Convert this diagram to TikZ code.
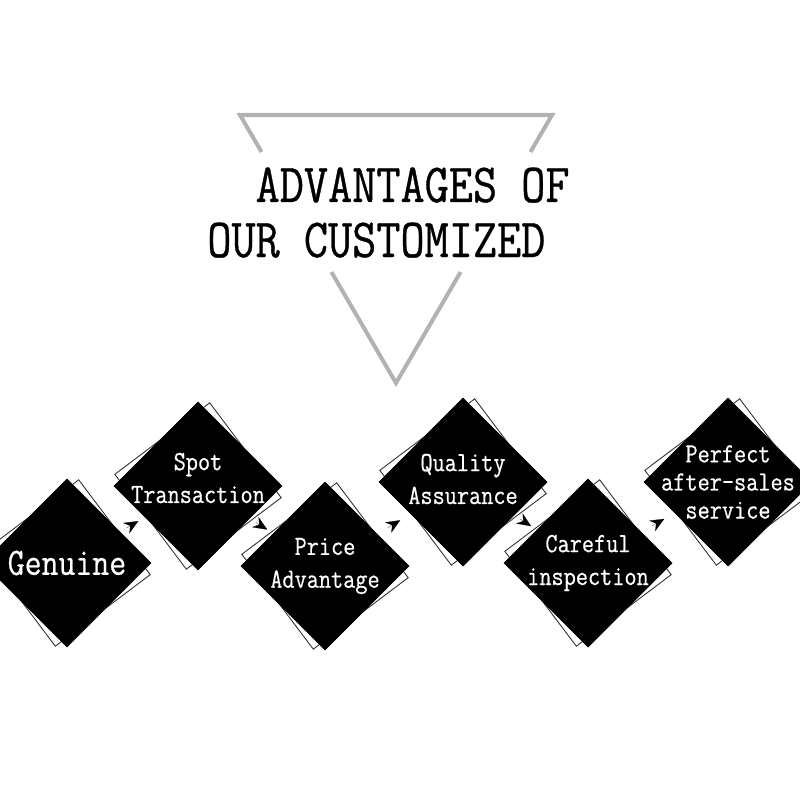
\documentclass[tikz,border=0pt]{standalone}
\usepackage{amsmath, amssymb}
\usepackage{fontspec}
\usepackage{tikz}
\usetikzlibrary{calc, arrows.meta}

\newfontfamily\narrowmono[FakeStretch=0.85, FakeBold=0.6]{Latin Modern Mono}

\begin{document}
\begin{tikzpicture}[x=0.02cm, y=-0.02cm,
		tri/.style={line width=2.3pt, draw=black!30, line join=miter},
		titletext/.style={inner sep=0pt, anchor=base west, font=\narrowmono\fontsize{31.4}{36}\selectfont},
		card/.style={fill=black, draw=black, minimum size=2.376cm, inner sep=0pt, rotate=45},
		cardback/.style={fill=white, draw=black!80, line width=0.5pt, minimum size=2.376cm, inner sep=0pt, rotate=37},
		cardtext/.style={text=white, align=center, inner sep=0pt},
		two/.style={font=\narrowmono\fontsize{15.8}{18.7}\selectfont},
		three/.style={font=\narrowmono\fontsize{15.8}{16}\selectfont},
		big/.style={font=\narrowmono\fontsize{22}{24}\selectfont},
		flowtip/.style={-{Stealth[length=0.28cm, width=0.24cm]}, line width=0.1pt}]
		
		\useasboundingbox (0,0) rectangle (800,800);
		
		% Triangulo detras del titulo
		\coordinate (tl) at (240,115);
		\coordinate (tr) at (552,115);
		\coordinate (tb) at (396,383);
		\draw[tri] ($(tl)!0.138!(tb)$) -- (tl) -- (tr) -- ($(tr)!0.138!(tb)$);
		\draw[tri] ($(tl)!0.586!(tb)$) -- (tb) -- ($(tr)!0.586!(tb)$);
		
		% Titulo
		\node[titletext] (title1) at (207,202) {\ \ ADVANTAGES OF};
		\node[titletext] (title2) at (207,257) {OUR CUSTOMIZED};
		
		% Rombos con su cuadro blanco detras
		\foreach \i/\x/\y/\dy/\sz/\txt in {1/67/563/0/big/Genuine, 2/198/486/-8/two/{Spot\\Transaction},
			3/325/566/0/two/{Price\\Advantage}, 4/463/482/-3/two/{Quality\\Assurance},
			5/588/563/0/two/{Careful\\inspection}, 6/728/482/0/three/{Perfect\\after-sales\\service}} {
			\node[cardback] (b\i) at (\x,\y) {};
			\node[card] (d\i) at (\x,\y) {};
			\node[cardtext, \sz] (t\i) at (\x,\y+\dy) {\txt};
		}
		
		% Flechas entre rombos
		\foreach \a/\b in {1/2, 2/3, 3/4, 4/5, 5/6} {
			\draw[flowtip] ($(d\a)!0.455!(d\b)$) -- ($(d\a)!0.545!(d\b)$);
		}
		
	\end{tikzpicture}
\end{document}
